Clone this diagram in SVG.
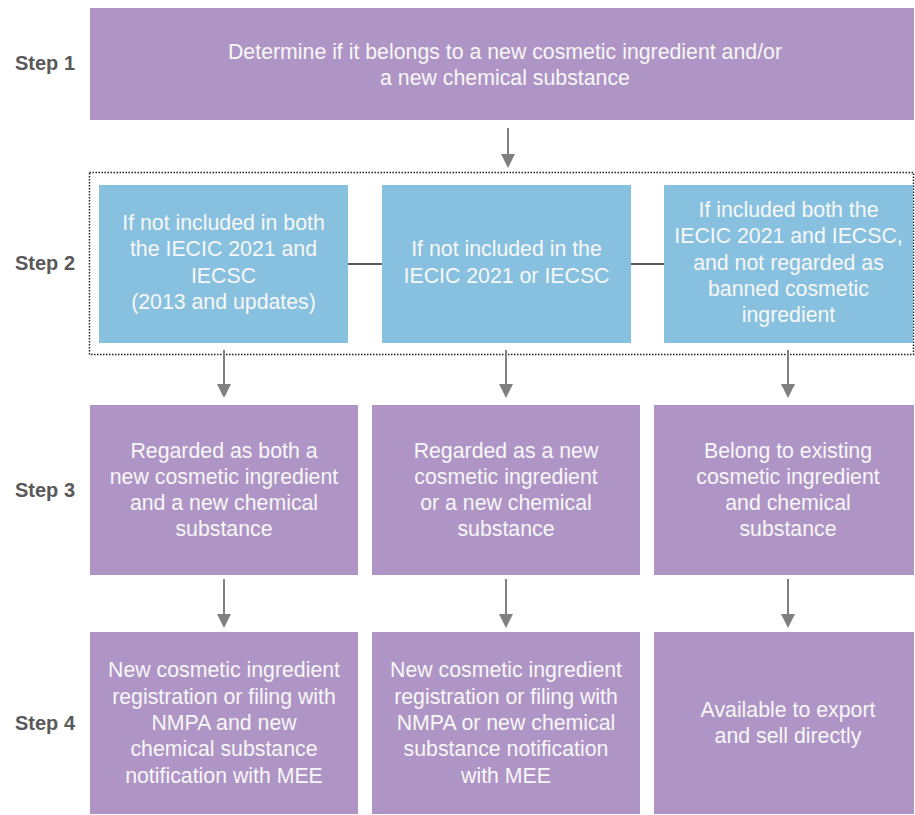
<svg xmlns="http://www.w3.org/2000/svg" width="915" height="815" viewBox="0 0 915 815">
<style>
.p{fill:#AF95C5}
.b{fill:#88C1DF}
.t{font-family:"Liberation Sans",Arial,sans-serif;font-size:21.3px;fill:#F7F7F7;text-anchor:middle}
.s{font-family:"Liberation Sans",Arial,sans-serif;font-size:20px;font-weight:bold;fill:#595959}
.a{stroke:#808080;stroke-width:2;fill:none;marker-end:url(#ah)}
.c{stroke:#595959;stroke-width:2;fill:none}
</style>
<defs>
<marker id="ah" markerUnits="userSpaceOnUse" viewBox="0 0 14 14" refX="4" refY="7" markerWidth="14" markerHeight="14" orient="auto">
<path d="M0,0 L14,7 L0,14 z" fill="#808080"/>
</marker>
</defs>
<rect x="89.5" y="172.5" width="824" height="182" fill="none" stroke="#222" stroke-width="1.5" stroke-dasharray="1.5 1.5"/>
<g id="labels">
<text class="s" x="15" y="70">Step 1</text>
<text class="s" x="15" y="270">Step 2</text>
<text class="s" x="15" y="497">Step 3</text>
<text class="s" x="15" y="730">Step 4</text>
</g>
<g id="connectors">
<line class="a" x1="508" y1="128" x2="508" y2="158"/>
<line class="c" x1="348" y1="264" x2="382" y2="264"/>
<line class="c" x1="631" y1="264" x2="664" y2="264"/>
<line class="a" x1="224" y1="350" x2="224" y2="388"/>
<line class="a" x1="506" y1="350" x2="506" y2="388"/>
<line class="a" x1="788" y1="350" x2="788" y2="388"/>
<line class="a" x1="224" y1="579" x2="224" y2="618"/>
<line class="a" x1="506" y1="579" x2="506" y2="618"/>
<line class="a" x1="788" y1="579" x2="788" y2="618"/>
</g>
<g id="s1">
<rect class="p" x="90" y="8" width="824" height="112"/>
<text class="t" x="505"><tspan x="505" y="58.5">Determine if it belongs to a new cosmetic ingredient and/or</tspan><tspan x="505" y="84.8">a new chemical substance</tspan></text>
</g>
<g id="s2a">
<rect class="b" x="99" y="185" width="249" height="158"/>
<text class="t"><tspan x="223.5" y="230">If not included in both</tspan><tspan x="223.5" y="256.3">the IECIC 2021 and</tspan><tspan x="223.5" y="282.6">IECSC</tspan><tspan x="223.5" y="308.9">(2013 and updates)</tspan></text>
</g>
<g id="s2b">
<rect class="b" x="382" y="185" width="249" height="158"/>
<text class="t"><tspan x="506.5" y="256.4">If not included in the</tspan><tspan x="506.5" y="282.6">IECIC 2021 or IECSC</tspan></text>
</g>
<g id="s2c">
<rect class="b" x="664" y="185" width="249" height="158"/>
<text class="t"><tspan x="788.5" y="216.9">If included both the</tspan><tspan x="788.5" y="243.2">IECIC 2021 and IECSC,</tspan><tspan x="788.5" y="269.5">and not regarded as</tspan><tspan x="788.5" y="295.8">banned cosmetic</tspan><tspan x="788.5" y="322.1">ingredient</tspan></text>
</g>
<g id="s3a">
<rect class="p" x="90" y="405" width="268" height="170"/>
<text class="t"><tspan x="224" y="457.5">Regarded as both a</tspan><tspan x="224" y="483.8">new cosmetic ingredient</tspan><tspan x="224" y="510.1">and a new chemical</tspan><tspan x="224" y="536.4">substance</tspan></text>
</g>
<g id="s3b">
<rect class="p" x="372" y="405" width="268" height="170"/>
<text class="t"><tspan x="506" y="457.5">Regarded as a new</tspan><tspan x="506" y="483.8">cosmetic ingredient</tspan><tspan x="506" y="510.1">or a new chemical</tspan><tspan x="506" y="536.4">substance</tspan></text>
</g>
<g id="s3c">
<rect class="p" x="654" y="405" width="260" height="170"/>
<text class="t"><tspan x="788" y="457.5">Belong to existing</tspan><tspan x="788" y="483.8">cosmetic ingredient</tspan><tspan x="788" y="510.1">and chemical</tspan><tspan x="788" y="536.4">substance</tspan></text>
</g>
<g id="s4a">
<rect class="p" x="90" y="632" width="268" height="182"/>
<text class="t"><tspan x="224" y="677.4">New cosmetic ingredient</tspan><tspan x="224" y="703.7">registration or filing with</tspan><tspan x="224" y="730">NMPA and new</tspan><tspan x="224" y="756.3">chemical substance</tspan><tspan x="224" y="782.6">notification with MEE</tspan></text>
</g>
<g id="s4b">
<rect class="p" x="372" y="632" width="268" height="182"/>
<text class="t"><tspan x="506" y="677.4">New cosmetic ingredient</tspan><tspan x="506" y="703.7">registration or filing with</tspan><tspan x="506" y="730">NMPA or new chemical</tspan><tspan x="506" y="756.3">substance notification</tspan><tspan x="506" y="782.6">with MEE</tspan></text>
</g>
<g id="s4c">
<rect class="p" x="654" y="632" width="260" height="182"/>
<text class="t"><tspan x="788" y="716.9">Available to export</tspan><tspan x="788" y="743.2">and sell directly</tspan></text>
</g>
</svg>
